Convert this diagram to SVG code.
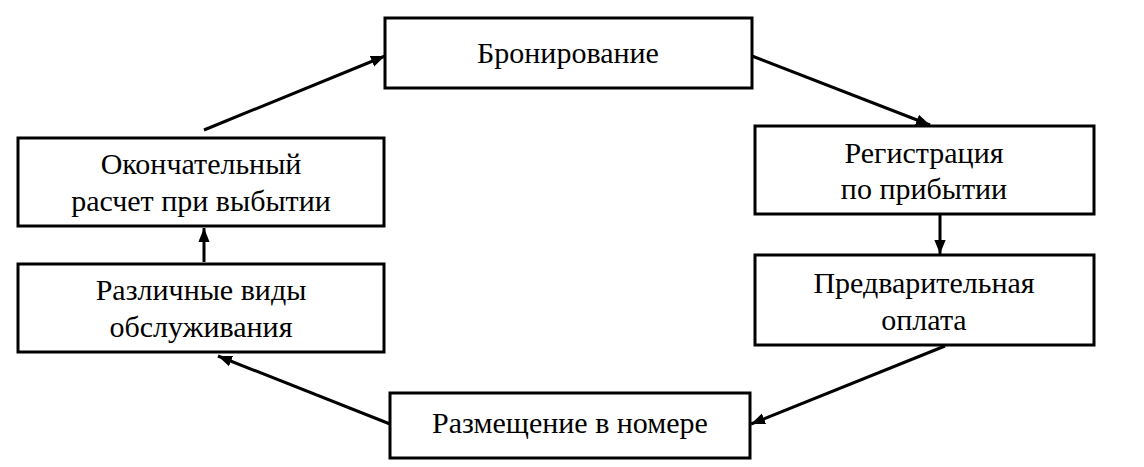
<svg xmlns="http://www.w3.org/2000/svg" width="1144" height="467" viewBox="0 0 1144 467">
<defs>
<marker id="a" viewBox="0 0 10 10" refX="10" refY="5" markerWidth="14" markerHeight="14" orient="auto" markerUnits="userSpaceOnUse"><path d="M0,1 L10,5 L0,9 z" fill="#000"/></marker>
<style>
rect{fill:#fff;stroke:#000;stroke-width:3}
text{font-size:30px;text-anchor:middle;fill:#000}
.c line{stroke:#000;stroke-width:3;marker-end:url(#a)}
</style>
</defs>
<rect width="1144" height="467" fill="#fff" style="stroke:none"/>
<g font-family="Liberation Serif, DejaVu Serif, serif">
<g id="n1"><rect x="385" y="18" width="367" height="70"/><text x="568" y="63">Бронирование</text></g>
<g id="n2"><rect x="755" y="126" width="339" height="88"/><text x="924" y="163">Регистрация</text><text x="924" y="199">по прибытии</text></g>
<g id="n3"><rect x="755" y="255" width="339" height="90"/><text x="924" y="293">Предварительная</text><text x="924" y="330">оплата</text></g>
<g id="n4"><rect x="390" y="393" width="360" height="65"/><text x="570" y="433">Размещение в номере</text></g>
<g id="n5"><rect x="18" y="264" width="366" height="88"/><text x="201" y="300">Различные виды</text><text x="201" y="337">обслуживания</text></g>
<g id="n6"><rect x="18" y="138" width="366" height="88"/><text x="201" y="174">Окончательный</text><text x="201" y="211">расчет при выбытии</text></g>
</g>
<g class="c">
<line x1="204" y1="130" x2="385" y2="56"/>
<line x1="752" y1="56" x2="930" y2="125"/>
<line x1="940" y1="214" x2="940" y2="254"/>
<line x1="945" y1="346" x2="751" y2="424"/>
<line x1="390" y1="424" x2="218" y2="356"/>
<line x1="204" y1="262" x2="204" y2="228"/>
</g>
</svg>
